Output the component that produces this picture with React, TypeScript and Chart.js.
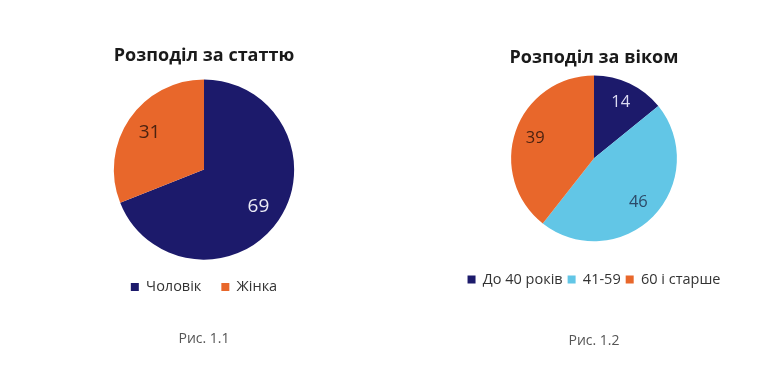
import React, { useEffect, useRef } from "react";
import { Chart, registerables } from "chart.js";

Chart.register(...registerables);

const genderLabels = ["Чоловік", "Жінка"];
const genderValues = [69, 31];
const genderColors = ["#1c1a6b", "#e8672b"];
const genderTextColors = ["#ececf6", "#4a2210"];

const ageLabels = ["До 40 років", "41-59", "60 і старше"];
const ageValues = [14, 46, 39];
const ageColors = ["#1c1a6b", "#62c6e6", "#e8672b"];
const ageTextColors = ["#dcdcf2", "#2c4a68", "#4a2210"];

const FONT = "'Open Sans', 'DejaVu Sans', sans-serif";

const sliceLabels = {
  id: "sliceLabels",
  afterDatasetsDraw(chart: any, _args: any, opts: any) {
    const ctx = chart.ctx;
    const meta = chart.getDatasetMeta(0);
    const data = chart.data.datasets[0].data;
    ctx.save();
    ctx.font = `400 ${opts.size}px ${FONT}`;
    ctx.textAlign = "center";
    ctx.textBaseline = "middle";
    meta.data.forEach((arc: any, i: number) => {
      const p = arc.getProps(["x", "y", "startAngle", "endAngle", "outerRadius"], true);
      const mid = (p.startAngle + p.endAngle) / 2;
      const r = p.outerRadius * opts.ratio;
      ctx.fillStyle = opts.colors[i];
      ctx.fillText(String(data[i]), p.x + Math.cos(mid) * r, p.y + Math.sin(mid) * r);
    });
    ctx.restore();
  },
};

function makeConfig(
  labels: string[],
  values: number[],
  colors: string[],
  textColors: string[],
  title: string,
  caption: string,
  lay: any
): any {
  return {
    type: "pie",
    data: {
      labels,
      datasets: [
        {
          data: values,
          backgroundColor: colors,
          borderWidth: 0,
        },
      ],
    },
    plugins: [sliceLabels],
    options: {
      responsive: false,
      animation: false,
      layout: { padding: { top: 0, bottom: lay.layoutBottom, left: 0, right: 0 } },
      plugins: {
        tooltip: { enabled: false },
        title: {
          display: true,
          text: title,
          color: "#1a1a1a",
          font: { family: FONT, size: 18, weight: "bold", lineHeight: 1.2 },
          padding: { top: lay.titleTop, bottom: lay.titleBottom },
        },
        subtitle: {
          display: true,
          position: "bottom",
          text: caption,
          color: "#555555",
          font: { family: FONT, size: 14, weight: "normal", lineHeight: 1.2 },
          padding: { top: lay.capTop, bottom: lay.capBottom },
        },
        legend: {
          position: "bottom",
          title: {
            display: lay.legendGap > 0,
            text: "",
            font: { size: 10, lineHeight: 1 },
            padding: { top: Math.max(lay.legendGap - 10, 0), bottom: 0 },
          },
          labels: {
            color: "#333333",
            font: { family: FONT, size: 14.5 },
            boxWidth: 8,
            boxHeight: 8,
            padding: lay.legendPad,
          },
        },
        sliceLabels: { size: lay.labelSize, ratio: lay.ratio, colors: textColors },
      },
    },
  };
}

function PieCanvas(props: { config: any; left: number; width: number }) {
  const ref = useRef<HTMLCanvasElement>(null);
  useEffect(() => {
    if (!ref.current) return;
    const chart = new Chart(ref.current, props.config);
    return () => chart.destroy();
  }, []);
  return (
    <canvas
      ref={ref}
      width={props.width}
      height={384}
      style={{ position: "absolute", left: props.left, top: 0, width: props.width, height: 384 }}
    />
  );
}

export default function App() {
  const cfg1 = makeConfig(genderLabels, genderValues, genderColors, genderTextColors, "Розподіл за статтю", "Рис. 1.1", {
    titleTop: 45,
    titleBottom: 12.8,
    legendPad: 20,
    legendGap: 0,
    capTop: 26,
    capBottom: 37,
    layoutBottom: 0,
    labelSize: 19,
    ratio: 0.73,
  });
  const cfg2 = makeConfig(ageLabels, ageValues, ageColors, ageTextColors, "Розподіл за віком", "Рис. 1.2", {
    titleTop: 47,
    titleBottom: 6.8,
    legendPad: 5,
    legendGap: 26,
    capTop: 35.5,
    capBottom: 35,
    layoutBottom: 0,
    labelSize: 16.5,
    ratio: 0.75,
  });
  return (
    <div style={{ position: "absolute", left: 0, top: 0, width: 770, height: 384, background: "#ffffff", overflow: "hidden" }}>
      <PieCanvas config={cfg1} left={0} width={408} />
      <PieCanvas config={cfg2} left={418} width={352} />
    </div>
  );
}
